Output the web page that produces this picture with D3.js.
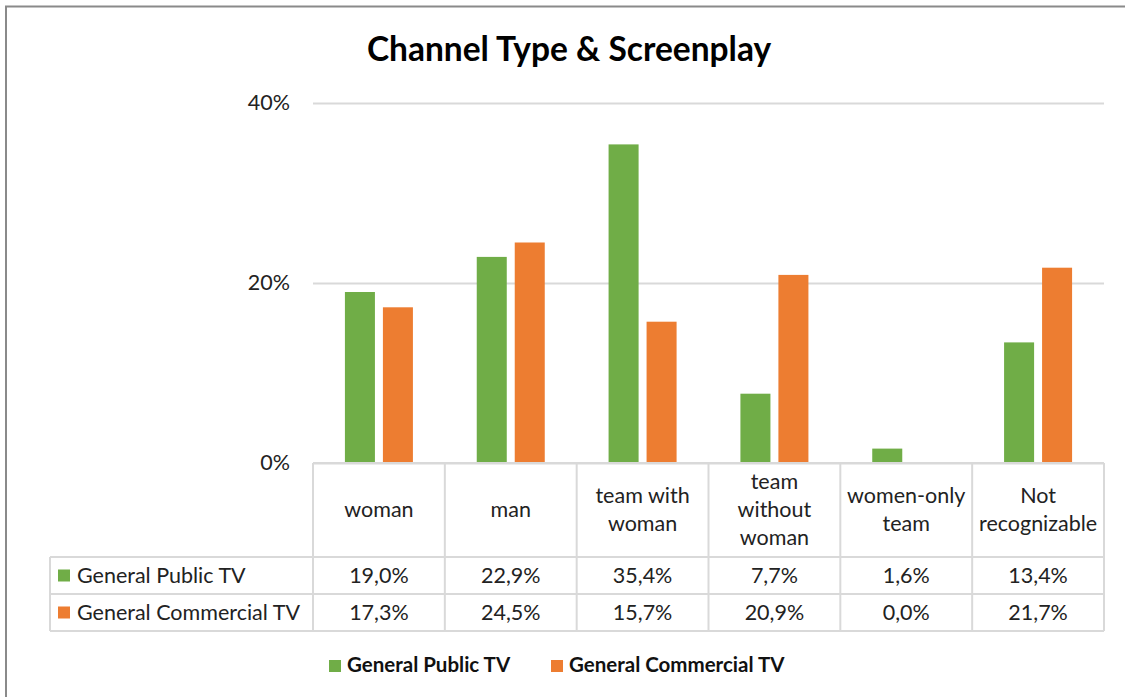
<!DOCTYPE html>
<html>
<head>
<meta charset="utf-8">
<script src="https://cdn.jsdelivr.net/npm/d3@7/dist/d3.min.js"></script>
<style>
  html, body { margin: 0; padding: 0; background: #fff; }
  svg { display: block; font-family: Lato, "Open Sans", sans-serif; }
</style>
</head>
<body>
<svg id="chart" width="1125" height="697"></svg>
<script>
// Screenplay categories and shares per channel type
const categories = ["woman", "man", "team with woman", "team without woman", "women-only team", "Not recognizable"];
const categoryLines = [["woman"], ["man"], ["team with", "woman"], ["team", "without", "woman"], ["women-only", "team"], ["Not", "recognizable"]];
const seriesNames = ["General Public TV", "General Commercial TV"];
const publicTV = [19.0, 22.9, 35.4, 7.7, 1.6, 13.4];
const commercialTV = [17.3, 24.5, 15.7, 20.9, 0.0, 21.7];
const yTicks = [0, 20, 40];
const colors = ["#70AD47", "#ED7D31"];

const series = [publicTV, commercialTV];
const svg = d3.select("#chart");
const FS = 21.5;

const plot = { left: 313, right: 1104, top: 103, bottom: 463 };

// Outer frame
svg.append("rect").attr("x", 6).attr("y", 6.5).attr("width", 1130).attr("height", 700)
  .attr("fill", "none").attr("stroke", "#8a8a8a").attr("stroke-width", 2);

// Title
svg.append("text").attr("x", 569).attr("y", 61).attr("text-anchor", "middle")
  .attr("font-size", 33.5).attr("font-weight", 700).attr("fill", "#000")
  .text("Channel Type & Screenplay");

const x = d3.scaleBand().domain(categories).range([plot.left, plot.right]);
const y = d3.scaleLinear().domain([0, 40]).range([plot.bottom, plot.top]);
const inner = d3.scaleBand().domain(d3.range(series.length)).range([0, x.bandwidth()])
  .paddingInner(0.21).paddingOuter(0.84);

// Gridlines and value axis
const yAxis = d3.axisLeft(y).tickValues(yTicks).tickFormat(d => d + "%").tickSize(-(plot.right - plot.left)).tickPadding(23);
const gy = svg.append("g").attr("transform", `translate(${plot.left},0)`).call(yAxis);
gy.select(".domain").remove();
gy.selectAll(".tick line").attr("stroke", "#d9d9d9").attr("stroke-width", 2);
gy.selectAll(".tick text").attr("font-size", FS).attr("fill", "#222").attr("font-family", "Lato, sans-serif");

// Bars
series.forEach((vals, si) => {
  svg.append("g").selectAll("rect").data(vals).join("rect")
    .attr("x", (d, i) => x(categories[i]) + inner(si))
    .attr("width", inner.bandwidth())
    .attr("y", d => y(d))
    .attr("height", d => y(0) - y(d))
    .attr("fill", colors[si]);
});

// Data table below the plot
const rowH = 37;
const headBottom = 557;
const tableLeft = 50;
const grid = svg.append("g").attr("stroke", "#d9d9d9").attr("stroke-width", 2);
const bounds = categories.map(c => x(c)).concat([plot.right]);
bounds.forEach(b => grid.append("line").attr("x1", b).attr("x2", b).attr("y1", plot.bottom).attr("y2", headBottom + 2 * rowH));
grid.append("line").attr("x1", tableLeft).attr("x2", tableLeft).attr("y1", headBottom).attr("y2", headBottom + 2 * rowH);
[0, 1, 2].forEach(r => grid.append("line").attr("x1", tableLeft).attr("x2", plot.right)
  .attr("y1", headBottom + r * rowH).attr("y2", headBottom + r * rowH));
grid.append("line").attr("x1", plot.left).attr("x2", plot.right).attr("y1", plot.bottom).attr("y2", plot.bottom);

// Category headers
const headMid = (plot.bottom + headBottom) / 2;
categoryLines.forEach((lines, i) => {
  const cx = x(categories[i]) + x.bandwidth() / 2;
  const t = svg.append("text").attr("text-anchor", "middle").attr("font-size", FS).attr("fill", "#222");
  lines.forEach((l, k) => {
    t.append("tspan").attr("x", cx).attr("y", headMid + (k - (lines.length - 1) / 2) * 28 + 7).text(l);
  });
});

// Value rows
const fmt = v => v.toFixed(1).replace(".", ",") + "%";
series.forEach((vals, si) => {
  const rowMid = headBottom + si * rowH + rowH / 2;
  svg.append("rect").attr("x", 58).attr("y", rowMid - 6).attr("width", 12).attr("height", 12).attr("fill", colors[si]);
  svg.append("text").attr("x", 77).attr("y", rowMid + 7).attr("font-size", FS).attr("fill", "#222").text(seriesNames[si]);
  vals.forEach((v, i) => {
    svg.append("text").attr("x", x(categories[i]) + x.bandwidth() / 2).attr("y", rowMid + 7)
      .attr("text-anchor", "middle").attr("font-size", FS).attr("fill", "#222").text(fmt(v));
  });
});

// Legend
const legendItems = [{ x: 329, name: seriesNames[0], c: colors[0] }, { x: 551, name: seriesNames[1], c: colors[1] }];
legendItems.forEach(it => {
  svg.append("rect").attr("x", it.x).attr("y", 660).attr("width", 12).attr("height", 12).attr("fill", it.c);
  svg.append("text").attr("x", it.x + 18).attr("y", 672).attr("font-size", 20.5).attr("font-weight", 700)
    .attr("fill", "#111").text(it.name);
});
</script>
</body>
</html>
